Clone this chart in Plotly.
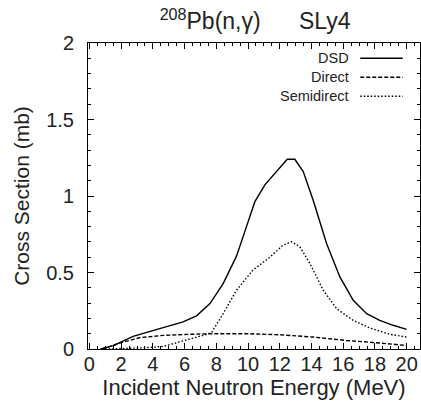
import plotly.graph_objects as go

# Data (Incident neutron energy in MeV, cross section in mb)
dsd_e = [0.7, 1.5, 2.75, 3.6, 4.86, 5.9, 6.75, 7.6, 8.43, 9.27, 9.9, 10.43, 11.06, 11.9, 12.47, 12.95, 13.48, 14.1, 14.95, 15.79, 16.63, 17.48, 18.3, 19.15, 20.0]
dsd_s = [0.0, 0.022, 0.082, 0.107, 0.144, 0.177, 0.217, 0.297, 0.427, 0.607, 0.8, 0.963, 1.073, 1.171, 1.24, 1.24, 1.16, 0.974, 0.69, 0.471, 0.318, 0.231, 0.187, 0.155, 0.128]

direct_e = [0.8, 2.12, 3.17, 4.65, 6.33, 7.8, 9.9, 12.0, 14.1, 16.2, 18.3, 20.0]
direct_s = [0.0, 0.045, 0.074, 0.089, 0.096, 0.1, 0.1, 0.093, 0.078, 0.056, 0.039, 0.023]

semi_e = [1.0, 2.5, 3.5, 4.65, 6.1, 7.17, 7.7, 8.43, 9.27, 10.3, 11.4, 12.2, 12.74, 13.27, 13.9, 14.74, 15.58, 16.63, 17.68, 18.95, 20.0]
semi_s = [0.0, 0.003, 0.008, 0.017, 0.057, 0.089, 0.107, 0.231, 0.384, 0.515, 0.602, 0.679, 0.701, 0.668, 0.559, 0.384, 0.264, 0.187, 0.137, 0.096, 0.078]

x_ticks = [0, 2, 4, 6, 8, 10, 12, 14, 16, 18, 20]
y_ticks = [0, 0.5, 1, 1.5, 2]
y_tick_text = ["0", "0.5", "1", "1.5", "2"]

series_names = ["DSD", "Direct", "Semidirect"]
series_dash = ["solid", "4px,2px", "1.5px,2px"]

FONT = "Liberation Sans, Arial, Helvetica, sans-serif"

fig = go.Figure()
for name, xs, ys, dash in zip(series_names, [dsd_e, direct_e, semi_e], [dsd_s, direct_s, semi_s], series_dash):
    fig.add_trace(go.Scatter(x=xs, y=ys, mode="lines", name=name,
                             line=dict(color="black", width=1.4, dash=dash),
                             showlegend=False, hoverinfo="skip"))

# gnuplot-style legend: right-aligned label with line sample to its right
leg_y = [0.95, 0.888, 0.826]
for name, dash, yy in zip(series_names, series_dash, leg_y):
    fig.add_annotation(xref="paper", yref="paper", x=0.793, y=yy, text=name, showarrow=False,
                       xanchor="right", yanchor="middle", font=dict(family=FONT, size=14.5, color="#222"))
    fig.add_shape(type="line", xref="paper", yref="paper", x0=0.82, x1=0.948, y0=yy, y1=yy,
                  line=dict(color="black", width=1.4, dash=dash))

axis_common = dict(showline=True, linecolor="black", linewidth=1, mirror="allticks",
                   ticks="inside", ticklen=6, tickcolor="black", showgrid=False, zeroline=False,
                   automargin=False,
                   tickfont=dict(family=FONT, size=20, color="#222"))

fig.update_xaxes(range=[-0.09, 20.84], tickvals=x_ticks, ticktext=[str(t) for t in x_ticks],
                 minor=dict(ticks="inside", ticklen=3, dtick=0.5, tick0=0, tickcolor="black"),
                 ticklabelstandoff=-3,
                 title=dict(text="Incident Neutron Energy (MeV)", font=dict(family=FONT, size=22, color="#222"), standoff=2),
                 **axis_common)
fig.update_yaxes(range=[0, 2], tickvals=y_ticks, ticktext=y_tick_text,
                 minor=dict(ticks="inside", ticklen=3, dtick=0.1, tick0=0, tickcolor="black"),
                 ticklabelstandoff=9,
                 title=dict(text="Cross Section (mb)", font=dict(family=FONT, size=21, color="#222"), standoff=10),
                 **axis_common)

fig.update_layout(
    width=421, height=410,
    margin=dict(l=88, r=1, t=43, b=61, autoexpand=False),
    paper_bgcolor="white", plot_bgcolor="white",
    title=dict(text="<sup>208</sup>Pb(n,γ)      SLy4", x=0.606, xanchor="center", y=0.968, yanchor="top",
               automargin=False, font=dict(family=FONT, size=23, color="#222")),
)

fig.write_html("out.html", config={"displayModeBar": False},
               post_script="document.body.style.margin='0';document.body.style.overflow='hidden';")
